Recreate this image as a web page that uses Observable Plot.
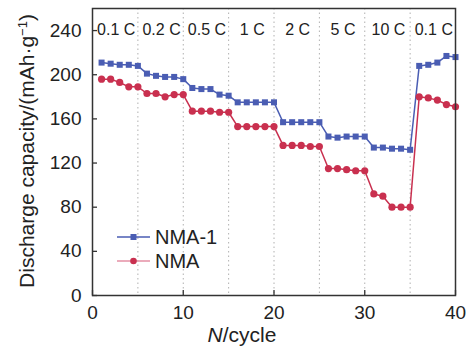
<!DOCTYPE html>
<html>
<head>
<meta charset="utf-8">
<script src="https://cdn.jsdelivr.net/npm/d3@7"></script>
<script src="https://cdn.jsdelivr.net/npm/@observablehq/plot@0.6"></script>
<style>
  html, body { margin: 0; padding: 0; background: #fff; }
  #wrap { position: relative; width: 470px; height: 352px; font-family: "Liberation Sans", Arial, sans-serif; }
  #legend { position: absolute; left: 116px; top: 225px; font-size: 20px; color: #222; }
  #legend .row { display: flex; align-items: center; height: 24px; }
  #legend svg { margin-right: 3px; }
</style>
</head>
<body>
<div id="wrap"></div>
<script>
const cycles = [1,2,3,4,5,6,7,8,9,10,11,12,13,14,15,16,17,18,19,20,21,22,23,24,25,26,27,28,29,30,31,32,33,34,35,36,37,38,39,40];
const nma1 = [211,210,209,209,208, 201,199,198,198,196, 188,187,187,182,181, 175,175,175,175,175, 157,157,157,157,157, 144,143,144,144,144, 134,134,133,133,132, 208,209,211,217,216];
const nma  = [196,196,193,189,189, 183,183,180,182,182, 167,167,167,166,166, 153,153,153,153,153, 136,136,136,135,135, 115,115,114,113,113, 92,90,80,80,80, 180,179,177,173,171];
const rates = ["0.1 C","0.2 C","0.5 C","1 C","2 C","5 C","10 C","0.1 C"];
const rateStarts = [0,5,10,15,20,25,30,35];
const dividers = [5,10,15,20,25,30,35];
const xTicks = [0,10,20,30,40];
const yTicks = [0,40,80,120,160,200,240];
const seriesNames = ["NMA-1","NMA"];
const colors = ["#4a5db3","#c9304f"];

const rows = [];
cycles.forEach((c,i) => {
  rows.push({cycle:c, value:nma1[i], series:seriesNames[0]});
  rows.push({cycle:c, value:nma[i], series:seriesNames[1]});
});
const s1 = rows.filter(d => d.series === seriesNames[0]);
const s2 = rows.filter(d => d.series === seriesNames[1]);
const rateData = rates.map((r,i) => ({label:r, mid: rateStarts[i] + 2.5}));

const font = "'Liberation Sans', Arial, sans-serif";
const chart = Plot.plot({
  width: 470, height: 352,
  marginLeft: 92, marginRight: 15, marginTop: 8, marginBottom: 57,
  style: {fontFamily: font, fontSize: "19px", color: "#222", background: "#fff"},
  x: {domain: [0,40]},
  y: {domain: [0,260]},
  marks: [
    Plot.ruleX(dividers, {stroke: "#b0b0b0", strokeWidth: 1, strokeDasharray: "1.5,3"}),
    Plot.axisY({ticks: yTicks, tickSize: -5, tickPadding: 16, label: null, fontSize: 19, stroke: "#333", strokeWidth: 1.3}),
    Plot.axisX({ticks: xTicks, tickSize: -5, tickPadding: 15, label: null, fontSize: 19, stroke: "#333", strokeWidth: 1.3}),
    Plot.line(s1, {x: "cycle", y: "value", stroke: colors[0], strokeWidth: 1.5}),
    Plot.dot(s1, {x: "cycle", y: "value", symbol: "square", r: 3.4, fill: colors[0], stroke: "none"}),
    Plot.line(s2, {x: "cycle", y: "value", stroke: colors[1], strokeWidth: 1.5}),
    Plot.dot(s2, {x: "cycle", y: "value", r: 3.6, fill: colors[1], stroke: "none"}),
    Plot.text(rateData, {x: "mid", text: "label", frameAnchor: "top", dy: 15, dx: 1, fontSize: 16, fill: "#222"}),
    Plot.frame({stroke: "#333", strokeWidth: 1.5})
  ]
});
document.getElementById("wrap").appendChild(chart);

const svg = d3.select(chart);
// y title
const yt = svg.append("text")
  .attr("transform", "translate(34,151) rotate(-90)")
  .attr("text-anchor", "middle")
  .attr("font-family", font).attr("font-size", 21).attr("fill", "#222");
yt.append("tspan").text("Discharge capacity/(mAh·g");
yt.append("tspan").attr("baseline-shift", "super").attr("font-size", 13).text("−1");
yt.append("tspan").text(")");
// x title
const xt = svg.append("text")
  .attr("x", 242).attr("y", 342)
  .attr("text-anchor", "middle")
  .attr("font-family", font).attr("font-size", 21).attr("fill", "#222");
xt.append("tspan").attr("font-style", "italic").text("N");
xt.append("tspan").text("/cycle");

// legend
const leg = document.createElement("div");
leg.id = "legend";
leg.innerHTML = `
  <div class="row"><svg width="36" height="12"><line x1="1" y1="6" x2="34" y2="6" stroke="${colors[0]}" stroke-width="1.6"/><rect x="14.5" y="3" width="6" height="6" fill="${colors[0]}"/></svg><span>${seriesNames[0]}</span></div>
  <div class="row"><svg width="36" height="12"><line x1="1" y1="6" x2="34" y2="6" stroke="#e58fa5" stroke-width="1.6"/><circle cx="17.5" cy="6" r="3.3" fill="${colors[1]}"/></svg><span>${seriesNames[1]}</span></div>`;
document.getElementById("wrap").appendChild(leg);
</script>
</body>
</html>
